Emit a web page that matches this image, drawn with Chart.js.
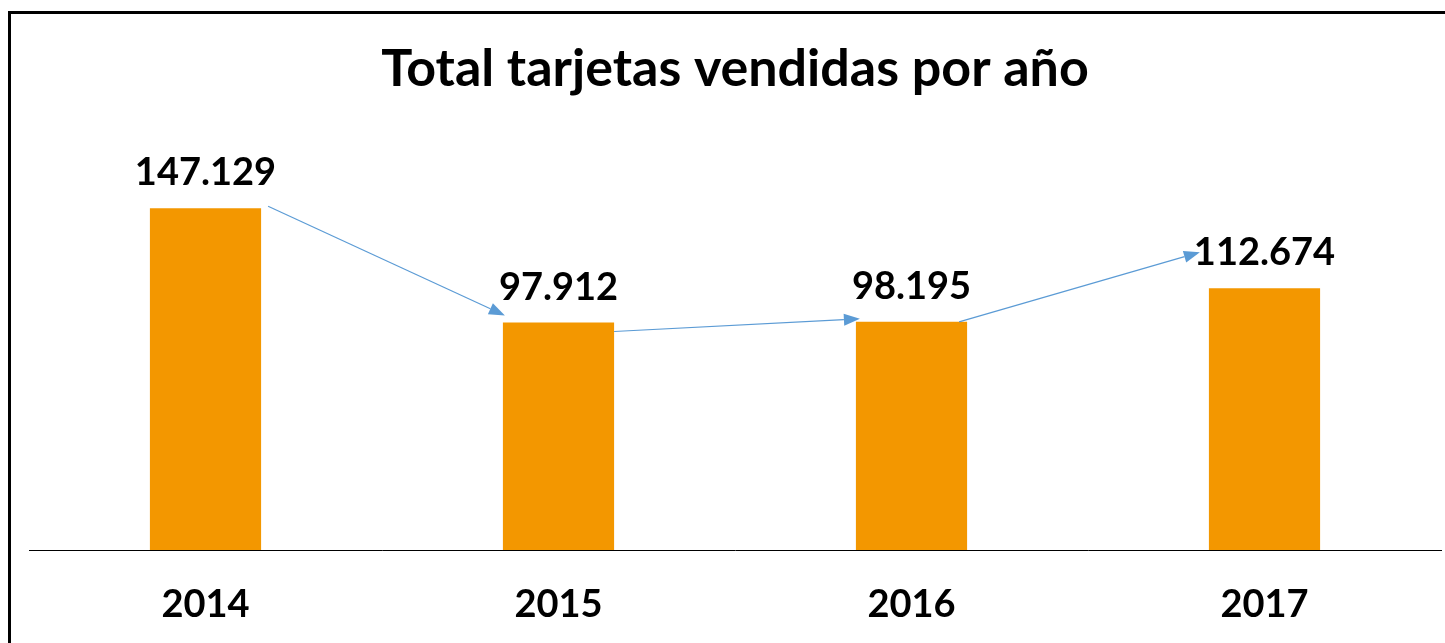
<!DOCTYPE html>
<html>
<head>
<meta charset="utf-8">
<script src="https://cdn.jsdelivr.net/npm/chart.js@4/dist/chart.umd.min.js"></script>
<style>
  body { margin: 0; background: #fff; }
  #wrap { position: relative; width: 1445px; height: 643px; }
  #frame {
    position: absolute; left: 8px; top: 11px; right: 0; bottom: 0;
    border-left: 3px solid #000; border-top: 3px solid #000;
    pointer-events: none;
  }
</style>
</head>
<body>
<div id="wrap">
  <canvas id="ventasChart"></canvas>
  <div id="frame"></div>
</div>
<script>
// Chart data
const years = ['2014', '2015', '2016', '2017'];
const cardsSold = [147129, 97912, 98195, 112674];

const barColor = '#F39700';
const arrowColor = '#5B9BD5';
const fontFamily = 'Lato, "Open Sans", sans-serif';

// Spanish style thousands separator
function formatNumber(v) {
    return String(v).replace(/\B(?=(\d{3})+(?!\d))/g, '.');
}

function drawArrow(ctx, x1, y1, x2, y2) {
    const ang = Math.atan2(y2 - y1, x2 - x1);
    const headLen = 16, headW = 6;
    const bx = x2 - headLen * Math.cos(ang);
    const by = y2 - headLen * Math.sin(ang);
    ctx.save();
    ctx.strokeStyle = arrowColor;
    ctx.fillStyle = arrowColor;
    ctx.lineWidth = 1.2;
    ctx.beginPath();
    ctx.moveTo(x1, y1);
    ctx.lineTo(bx, by);
    ctx.stroke();
    ctx.beginPath();
    ctx.moveTo(x2, y2);
    ctx.lineTo(bx + headW * Math.sin(ang), by - headW * Math.cos(ang));
    ctx.lineTo(bx - headW * Math.sin(ang), by + headW * Math.cos(ang));
    ctx.closePath();
    ctx.fill();
    ctx.restore();
}

// Value labels above bars plus the trend arrows between them
const annotationsPlugin = {
    id: 'annotations',
    afterDatasetsDraw(chart) {
        const ctx = chart.ctx;
        const bars = chart.getDatasetMeta(0).data;
        const half = bars[0].width / 2;

        ctx.save();
        ctx.font = 'bold 38px ' + fontFamily;
        ctx.fillStyle = '#000';
        ctx.textAlign = 'center';
        ctx.textBaseline = 'alphabetic';
        bars.forEach((bar, i) => {
            ctx.fillText(formatNumber(cardsSold[i]), bar.x, bar.y - 23);
        });
        ctx.restore();

        const b = bars;
        drawArrow(ctx, b[0].x + half + 7, b[0].y - 2, b[1].x - half + 2, b[1].y - 7);
        drawArrow(ctx, b[1].x + half, b[1].y + 9, b[2].x - half + 4, b[2].y - 3);
        drawArrow(ctx, b[2].x + half - 8, b[2].y, b[3].x - half - 9, b[3].y - 36);
    }
};

const ctx = document.getElementById('ventasChart').getContext('2d');
const ventasChart = new Chart(ctx, {
    type: 'bar',
    data: {
        labels: years,
        datasets: [{
            label: 'Tarjetas vendidas',
            data: cardsSold,
            backgroundColor: barColor,
            borderWidth: 0,
            categoryPercentage: 1,
            barPercentage: 0.315
        }]
    },
    options: {
        responsive: true,
        maintainAspectRatio: false,
        animation: false,
        layout: { padding: { left: 29, right: 4, top: 0, bottom: 18 } },
        plugins: {
            legend: { display: false },
            tooltip: { enabled: false },
            title: {
                display: true,
                text: 'Total tarjetas vendidas por año',
                color: '#000',
                font: { family: fontFamily, size: 52, weight: 'bold' },
                padding: { top: 38, bottom: 50 }
            }
        },
        scales: {
            x: {
                grid: { display: false },
                border: { display: true, color: '#000', width: 1 },
                afterFit(scale) { scale.height = 75; },
                ticks: {
                    color: '#000',
                    padding: 24,
                    font: { family: fontFamily, size: 38, weight: 'bold' }
                }
            },
            y: {
                display: false,
                min: 0,
                max: 172000
            }
        }
    },
    plugins: [annotationsPlugin]
});
</script>
</body>
</html>
